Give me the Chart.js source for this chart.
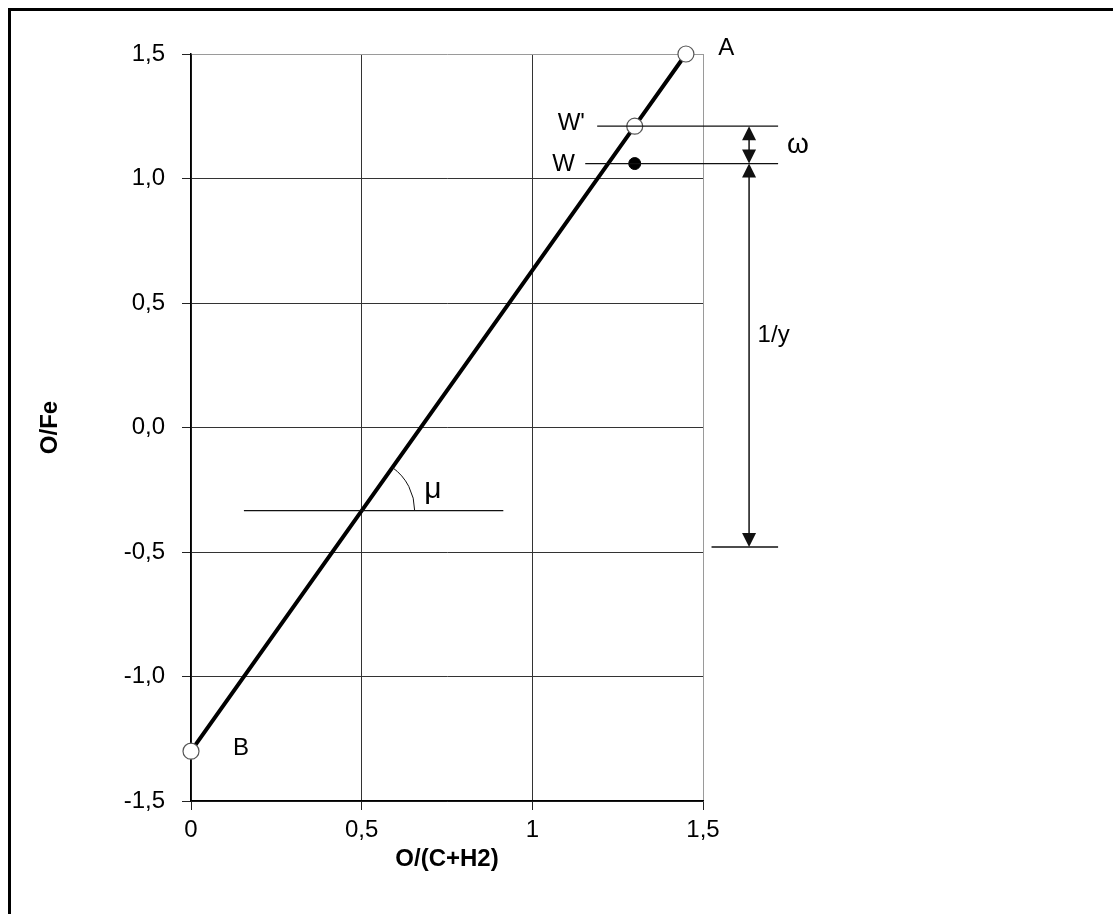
<!DOCTYPE html>
<html lang="en">
<head>
    <meta charset="UTF-8">
    <title>O/Fe - O/(C+H2)</title>
    <script src="https://cdn.jsdelivr.net/npm/chart.js@4.4.1/dist/chart.umd.min.js"></script>
<style>
    body{ margin:0; background:#fff; }
    #board{ position:relative; width:1113px; height:914px; }
    #frame{ position:absolute; left:8px; top:8px; right:0; bottom:0;
            border-top:3px solid #000; border-left:3px solid #000; pointer-events:none; }
</style>
</head>
<body>
    <div id="board">
        <canvas id="chart1" width="1113" height="914"></canvas>
        <div id="frame"></div>
    </div>
</body>
</html>
<script>
    // axis ticks
    const xTickValues = [0, 0.5, 1, 1.5];
    const xTickLabels = ['0', '0,5', '1', '1,5'];
    const yTickValues = [-1.5, -1, -0.5, 0, 0.5, 1, 1.5];
    const yTickLabels = ['-1,5', '-1,0', '-0,5', '0,0', '0,5', '1,0', '1,5'];

    // operating line B -> W' -> A
    const lineX = [0, 1.3, 1.45];
    const lineY = [-1.3, 1.21, 1.5];
    // point W
    const wX = [1.3];
    const wY = [1.06];

    // helper horizontal lines (W', W, bottom of 1/y, mu)
    const guideY    = [1.21, 1.06, -0.48, -0.334];
    const guideFrom = [1.19, 1.155, 1.525, 0.155];
    const guideTo   = [1.72, 1.72, 1.72, 0.915];

    // arrows: omega and 1/y
    const arrowX    = [1.635, 1.635];
    const arrowTop  = [1.21, 1.06];
    const arrowBot  = [1.06, -0.48];

    // mu angle centre
    const muX = 0.5, muY = -0.334;

    // text labels
    const labelText  = ['A', "W'", 'W', 'ω', '1/y', 'μ', 'B'];
    const labelX     = [1.545, 1.154, 1.125, 1.778, 1.66, 0.683, 0.123];
    const labelY     = [1.524, 1.22, 1.058, 1.135, 0.37, -0.25, -1.287];
    const labelAlign = ['left', 'right', 'right', 'center', 'left', 'left', 'left'];
    const labelSize  = [24, 24, 24, 28, 24, 30, 24];

    const FONT = "Arial, 'Liberation Sans', sans-serif";

    const pts = (xs, ys) => xs.map((x, i) => ({x: x, y: ys[i]}));

    const guideSets = guideY.map((y, i) => ({
        data: [{x: guideFrom[i], y: y}, {x: guideTo[i], y: y}],
        showLine: true,
        borderColor: '#111',
        borderWidth: 1.3,
        pointRadius: 0,
        clip: false
    }));

    const extras = {
        id: 'extras',
        afterDatasetsDraw(chart) {
            const ctx = chart.ctx;
            const xs = chart.scales.x, ys = chart.scales.y;
            ctx.save();
            ctx.strokeStyle = '#111';
            ctx.fillStyle = '#111';
            ctx.lineWidth = 1.5;

            const head = (x, y, dir) => {  // dir -1 = up, 1 = down
                ctx.beginPath();
                ctx.moveTo(x, y);
                ctx.lineTo(x - 7, y - dir * 14);
                ctx.lineTo(x + 7, y - dir * 14);
                ctx.closePath();
                ctx.fill();
            };
            arrowX.forEach((ax, i) => {
                const px = xs.getPixelForValue(ax);
                const y0 = ys.getPixelForValue(arrowTop[i]);
                const y1 = ys.getPixelForValue(arrowBot[i]);
                ctx.beginPath();
                ctx.moveTo(px, y0 + 10);
                ctx.lineTo(px, y1 - 10);
                ctx.stroke();
                head(px, y0, -1);
                head(px, y1, 1);
            });

            // mu arc
            const bx = xs.getPixelForValue(lineX[0]), by = ys.getPixelForValue(lineY[0]);
            const axp = xs.getPixelForValue(lineX[2]), ayp = ys.getPixelForValue(lineY[2]);
            const ang = Math.atan2(ayp - by, axp - bx);
            ctx.lineWidth = 1;
            ctx.beginPath();
            ctx.arc(xs.getPixelForValue(muX), ys.getPixelForValue(muY), 53, ang, 0);
            ctx.stroke();

            // labels
            ctx.fillStyle = '#000';
            ctx.textBaseline = 'middle';
            labelText.forEach((t, i) => {
                ctx.font = labelSize[i] + 'px ' + FONT;
                ctx.textAlign = labelAlign[i];
                ctx.fillText(t, xs.getPixelForValue(labelX[i]), ys.getPixelForValue(labelY[i]));
            });
            ctx.restore();
        }
    };

    const gridColor = (c) => (c.tick && c.tick.value === 1.5) ? '#9a9a9a' : '#333';

    new Chart(document.getElementById('chart1').getContext('2d'), {
        type: 'scatter',
        data: {
            datasets: [
                ...guideSets,
                {
                    data: pts(lineX, lineY),
                    showLine: true,
                    borderColor: '#000',
                    borderWidth: 4,
                    pointRadius: 8,
                    pointBackgroundColor: '#fff',
                    pointBorderColor: '#555',
                    pointBorderWidth: 1.2,
                    clip: false
                },
                {
                    data: pts(wX, wY),
                    pointRadius: 6,
                    pointBackgroundColor: '#000',
                    pointBorderColor: '#000'
                }
            ]
        },
        options: {
            responsive: false,
            animation: false,
            devicePixelRatio: 1,
            layout: { padding: { top: 54, right: 410, bottom: 0, left: 0 } },
            plugins: { legend: { display: false }, tooltip: { enabled: false } },
            scales: {
                x: {
                    type: 'linear',
                    min: 0, max: 1.5,
                    afterFit: (s) => { s.height = 113; },
                    ticks: {
                        stepSize: 0.5,
                        padding: 6,
                        color: '#000',
                        font: { size: 24, family: FONT },
                        maxRotation: 0,
                        callback: (v) => xTickLabels[xTickValues.indexOf(v)]
                    },
                    grid: { color: gridColor, tickColor: '#222', tickLength: 9, lineWidth: 1 },
                    border: { color: '#000', width: 1.5 },
                    title: {
                        display: true,
                        text: 'O/(C+H2)',
                        color: '#000',
                        font: { size: 24, weight: 'bold', family: FONT },
                        padding: { top: 0, bottom: 40 }
                    }
                },
                y: {
                    min: -1.5, max: 1.5,
                    afterFit: (s) => { s.width = 191; },
                    ticks: {
                        stepSize: 0.5,
                        padding: 17,
                        color: '#000',
                        font: { size: 24, family: FONT },
                        callback: (v) => yTickLabels[yTickValues.indexOf(v)]
                    },
                    grid: { color: gridColor, tickColor: '#222', tickLength: 9, lineWidth: 1 },
                    border: { color: '#000', width: 1.5 },
                    title: {
                        display: true,
                        text: 'O/Fe',
                        color: '#000',
                        font: { size: 24, weight: 'bold', family: FONT },
                        padding: { top: 36, bottom: 0 }
                    }
                }
            }
        },
        plugins: [extras]
    });
</script>
